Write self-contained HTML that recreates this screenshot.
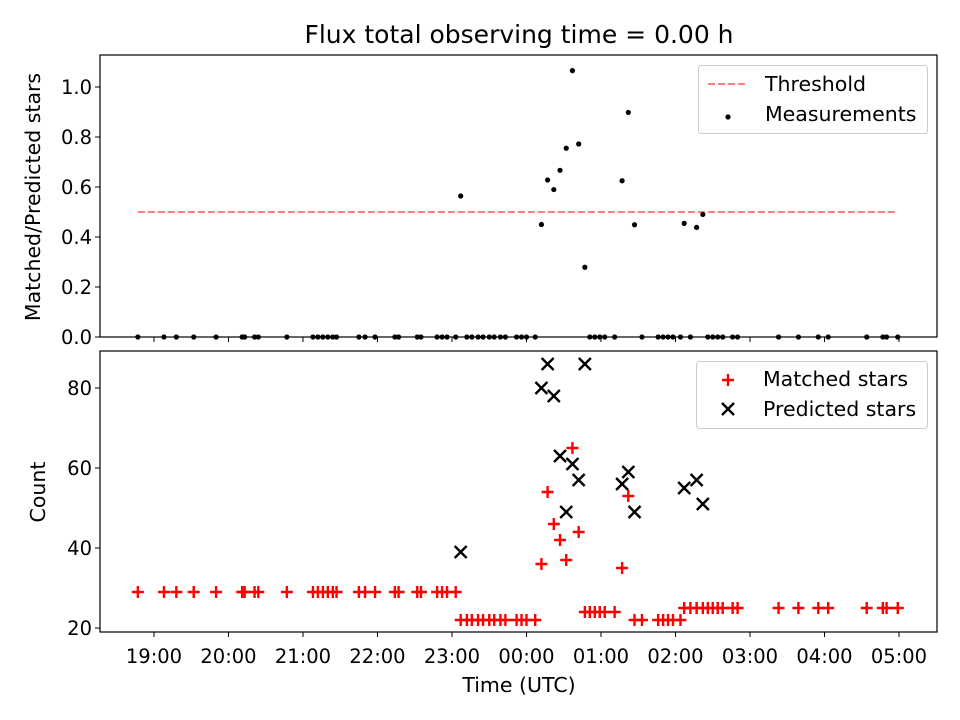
<!DOCTYPE html>
<html><head><meta charset="utf-8"><style>
body{margin:0;background:#fff}
svg{display:block;font-family:"DejaVu Sans","Liberation Sans",sans-serif}
</style></head><body>
<svg id="chart" width="960" height="720" viewBox="0 0 960 720"></svg>
<script>
// minutes since 19:00 UTC
const times=[-13,8,18,32,50,71,73,81,84,107,128,132,136,140,144,147,165,170,178,194,197,212,215,228,232,236,243,247,252,256,261,265,270,274,279,283,292,296,300,307,312,317,322,327,332,337,342,347,351,355,359,363,371,377,382,387,393,406,410,414,418,424,427,432,437,442,446,450,454,458,466,470,503,519,535,543,574,587,590,599];
const matched=[29,29,29,29,29,29,29,29,29,29,29,29,29,29,29,29,29,29,29,29,29,29,29,29,29,29,29,22,22,22,22,22,22,22,22,22,22,22,22,22,36,54,46,42,37,65,44,24,24,24,24,24,24,35,53,22,22,22,22,22,22,22,25,25,25,25,25,25,25,25,25,25,25,25,25,25,25,25,25,25];
const predicted=[null,null,null,null,null,null,null,null,null,null,null,null,null,null,null,null,null,null,null,null,null,null,null,null,null,null,null,39,null,null,null,null,null,null,null,null,null,null,null,null,80,86,78,63,49,61,57,86,null,null,null,null,null,56,59,49,null,null,null,null,null,null,55,null,57,51,null,null,null,null,null,null,null,null,null,null,null,null,null,null];
const threshold=0.5;
const xTickLabels=["19:00","20:00","21:00","22:00","23:00","00:00","01:00","02:00","03:00","04:00","05:00"];
const topTicks=[0,0.2,0.4,0.6,0.8,1.0];
const botTicks=[20,40,60,80];

const NS="http://www.w3.org/2000/svg";
const svg=document.getElementById('chart');
function el(t,a,txt){const e=document.createElementNS(NS,t);for(const k in a)e.setAttribute(k,a[k]);if(txt!=null)e.textContent=txt;svg.appendChild(e);return e;}
const L=100,R=937;
const TF='font-size:19.5px';
const LF='font-size:20.5px';
const xS=m=>154+m*74.5/60;
const yTop=v=>337-v*250;
const yBot=v=>628-(v-20)*4;

let t=el('text',{x:519,y:43,'text-anchor':'middle',style:'font-size:25px',fill:'#000'},'Flux total observing time = 0.00 h');



const thr=el('line',{x1:xS(times[0]),x2:xS(times[times.length-1]),y1:yTop(threshold),y2:yTop(threshold),stroke:'#ff7f7f','stroke-width':2,'stroke-dasharray':'7,3'});



times.forEach((m,i)=>{
  const r=predicted[i]?matched[i]/predicted[i]:0;
  const c=el('circle',{cx:xS(m),cy:yTop(r),r:2.6,fill:'#000'});
  
  
});
times.forEach((m,i)=>{
  const x=xS(m),y=yBot(matched[i]);
  const p=el('path',{d:`M${x-6},${y}H${x+6}M${x},${y-6}V${y+6}`,stroke:'#f00','stroke-width':2.4});
  
  
  if(predicted[i]!=null){
    const yp=yBot(predicted[i]);
    const q=el('path',{d:`M${x-6},${yp-6}L${x+6},${yp+6}M${x-6},${yp+6}L${x+6},${yp-6}`,stroke:'#000','stroke-width':2.4});
    
    
  }
});

const f1=el('rect',{x:L,y:55,width:R-L,height:282,fill:'none',stroke:'#000','stroke-width':1.2});


const f2=el('rect',{x:L,y:351,width:R-L,height:281,fill:'none',stroke:'#000','stroke-width':1.2});



xTickLabels.forEach((lab,i)=>{
  const x=xS(i*60);
  el('line',{x1:x,x2:x,y1:337,y2:342,stroke:'#000','stroke-width':1});
  el('line',{x1:x,x2:x,y1:632,y2:637,stroke:'#000','stroke-width':1});
  const tx=el('text',{x:x,y:663,'text-anchor':'middle',style:TF,fill:'#000'},lab);
  
  
});
topTicks.forEach(v=>{
  const y=yTop(v);
  el('line',{x1:L-5,x2:L,y1:y,y2:y,stroke:'#000','stroke-width':1});
  const tx=el('text',{x:L-8,y:y+7,'text-anchor':'end',style:TF,fill:'#000'},v.toFixed(1));
  
  
});
botTicks.forEach(v=>{
  const y=yBot(v);
  el('line',{x1:L-5,x2:L,y1:y,y2:y,stroke:'#000','stroke-width':1});
  const tx=el('text',{x:L-8,y:y+7,'text-anchor':'end',style:TF,fill:'#000'},String(v));
  
  
});
let a=el('text',{x:519,y:692,'text-anchor':'middle',style:LF,fill:'#000'},'Time (UTC)');


a=el('text',{x:0,y:0,transform:'translate(40,197) rotate(-90)','text-anchor':'middle',style:LF,fill:'#000'},'Matched/Predicted stars');


a=el('text',{x:0,y:0,transform:'translate(45,492) rotate(-90)','text-anchor':'middle',style:LF,fill:'#000'},'Count');



let lg=el('rect',{x:698.5,y:65.5,width:229,height:68,rx:3,fill:'#fff','fill-opacity':0.8,stroke:'#ccc'});


el('line',{x1:708,x2:748,y1:84,y2:84,stroke:'#ff7f7f','stroke-width':2,'stroke-dasharray':'7,3'});
el('circle',{cx:728,cy:117,r:2.6,fill:'#000'});
a=el('text',{x:765,y:91,style:LF,fill:'#000'},'Threshold');


a=el('text',{x:765,y:121,style:LF,fill:'#000'},'Measurements');



lg=el('rect',{x:696.5,y:361.5,width:231,height:67,rx:3,fill:'#fff','fill-opacity':0.8,stroke:'#ccc'});


el('path',{d:'M722,380H734M728,374V386',stroke:'#f00','stroke-width':2.4});
el('path',{d:'M722,403L734,415M722,415L734,403',stroke:'#000','stroke-width':2.4});
a=el('text',{x:763,y:386,style:LF,fill:'#000'},'Matched stars');


a=el('text',{x:763,y:416,style:LF,fill:'#000'},'Predicted stars');


</script>
</body></html>
